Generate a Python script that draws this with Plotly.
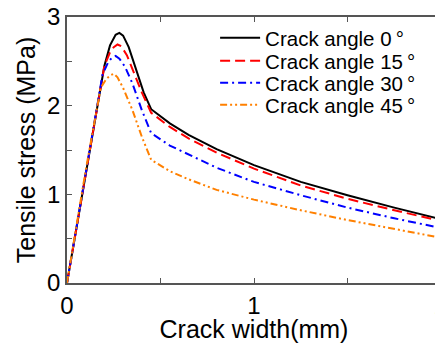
import plotly.graph_objects as go

# Crack width (mm) sample points for each curve
x_0 = [0, 0.1, 0.2, 0.23, 0.26, 0.28, 0.30, 0.33, 0.37, 0.41, 0.45, 0.55, 0.65, 0.8, 1.0, 1.25, 1.5, 1.75, 2.0]
y_0 = [0, 1.25, 2.45, 2.68, 2.80, 2.82, 2.79, 2.66, 2.41, 2.15, 1.96, 1.80, 1.67, 1.51, 1.33, 1.14, 0.99, 0.85, 0.72]

x_15 = [0, 0.1, 0.2, 0.23, 0.25, 0.27, 0.29, 0.32, 0.36, 0.40, 0.45, 0.55, 0.65, 0.8, 1.0, 1.25, 1.5, 1.75, 2.0]
y_15 = [0, 1.25, 2.45, 2.60, 2.66, 2.69, 2.67, 2.57, 2.36, 2.15, 1.92, 1.76, 1.63, 1.47, 1.29, 1.10, 0.95, 0.82, 0.70]

x_30 = [0, 0.1, 0.19, 0.22, 0.24, 0.26, 0.28, 0.31, 0.35, 0.40, 0.45, 0.55, 0.65, 0.8, 1.0, 1.25, 1.5, 1.75, 2.0]
y_30 = [0, 1.25, 2.35, 2.49, 2.54, 2.56, 2.53, 2.44, 2.25, 1.95, 1.69, 1.55, 1.45, 1.30, 1.14, 0.99, 0.85, 0.73, 0.62]

x_45 = [0, 0.1, 0.18, 0.21, 0.23, 0.25, 0.27, 0.30, 0.35, 0.40, 0.45, 0.55, 0.65, 0.8, 1.0, 1.25, 1.5, 1.75, 2.0]
y_45 = [0, 1.27, 2.20, 2.30, 2.34, 2.36, 2.32, 2.20, 1.95, 1.65, 1.39, 1.26, 1.17, 1.05, 0.94, 0.82, 0.71, 0.61, 0.51]

names = ["Crack angle 0\u2009°", "Crack angle 15\u2009°", "Crack angle 30\u2009°", "Crack angle 45\u2009°"]
colors = ["#000000", "#ff0000", "#0000ff", "#ff8000"]
dashes = ["solid", "10px,5px", "8px,4px,2px,4px", "7px,3px,2px,3px,2px,3px"]
legend_ids = ["legend", "legend2", "legend3", "legend4"]
legend_rows_y = [0.921, 0.835, 0.752, 0.669]  # paper-y of each legend row

xs = [x_0, x_15, x_30, x_45]
ys = [y_0, y_15, y_30, y_45]

fig = go.Figure()
for x, y, n, c, d, lg in zip(xs, ys, names, colors, dashes, legend_ids):
    fig.add_trace(go.Scatter(x=x, y=y, name=n, mode="lines", legend=lg,
                             line=dict(color=c, width=2, dash=d)))

font_family = "Liberation Sans"
axis_common = dict(
    showline=True, linecolor="#555555", linewidth=1.5, mirror="ticks",
    ticks="inside", ticklen=5, tickcolor="#555555", tickwidth=1,
    showgrid=False, zeroline=False, automargin=False, ticklabeloverflow="allow",
    tickfont=dict(family=font_family, size=24, color="black"),
)

legends = {}
for lg, yy in zip(legend_ids, legend_rows_y):
    legends[lg] = dict(x=0.396, y=yy, xanchor="left", yanchor="middle",
                       bgcolor="rgba(0,0,0,0)", font=dict(size=20.5),
                       itemwidth=40, borderwidth=0)

# page body has an 8px default margin, so the figure is 8px smaller
fig.update_layout(
    width=435, height=335,
    margin=dict(l=59, r=2, t=9, b=60),
    paper_bgcolor="white", plot_bgcolor="white",
    font=dict(family=font_family, color="black"),
    xaxis=dict(range=[0, 2], tickvals=[0, 0.5, 1, 1.5, 2], ticktext=["0", "", "1", "", "2"],
               title=dict(text="Crack width(mm)", font=dict(size=25), standoff=0), **axis_common),
    yaxis=dict(range=[0, 3], tickvals=[0, 0.5, 1, 1.5, 2, 2.5, 3], ticktext=["0", "", "1", "", "2", "", "3"],
               title=dict(text="Tensile stress (MPa)", font=dict(size=25), standoff=4), **axis_common),
    showlegend=True,
    **legends,
)

fig.write_html("out.html")
